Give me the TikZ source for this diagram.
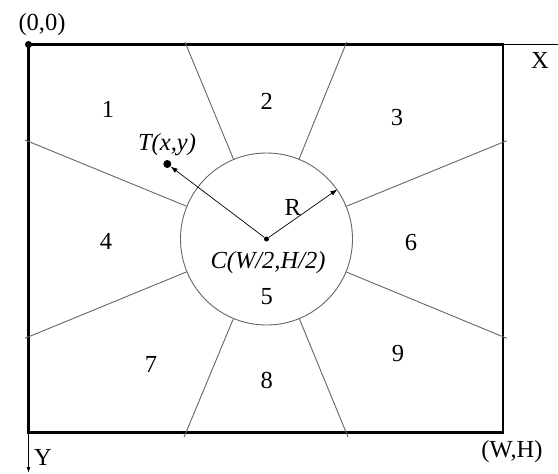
\documentclass[tikz,border=0pt]{standalone}
\usepackage{fontspec}
\setmainfont{Liberation Serif}
\usetikzlibrary{arrows.meta}
\begin{document}
\begin{tikzpicture}[x=1pt,y=-1pt,
  lbl/.style={inner sep=0pt,font=\fontsize{24.5}{28}\selectfont},
  ray/.style={draw=black!60,line width=0.9pt},
  frame/.style={draw=black,line width=2.8pt},
  axis/.style={draw=black,line width=0.9pt},
  vec/.style={draw=black,line width=0.7pt,-{Latex[length=7pt,width=5pt]}},
  dotstyle/.style={circle,fill=black,inner sep=0pt}]
\useasboundingbox (0,0) rectangle (558,474);
% frame
\coordinate (O) at (28.5,44.5);
\coordinate (WH) at (503,432.5);
\draw[frame] (O) rectangle (WH);
\coordinate (xend) at (558,44.5);
\coordinate (ystart) at (28.5,432.5);
\coordinate (yend) at (28.5,473);
\draw[axis] (503,44.5) -- (xend);
\draw[axis,-{Latex[length=6pt,width=4pt]}] (ystart) -- (yend);
\node[dotstyle,minimum size=7pt] (odot) at (O) {};
% circle
\node[circle,draw=black!60,line width=0.9pt,minimum size=172pt,inner sep=0pt] (circ) at (266.5,239) {};
% rays
\coordinate (r1) at (185,42);
\coordinate (r2) at (346.7,42);
\coordinate (r3) at (25,140);
\coordinate (r4) at (506.7,140.7);
\coordinate (r5) at (25,338.3);
\coordinate (r6) at (506.7,338.3);
\coordinate (r7) at (184,437.3);
\coordinate (r8) at (348,437);
\foreach \r in {r1,r2,r3,r4,r5,r6,r7,r8} {\draw[ray] (\r) -- (circ);}
% centre and T
\node[dotstyle,minimum size=5pt] (cdot) at (266.5,239) {};
\node[dotstyle,minimum size=8pt] (tdot) at (167.3,164) {};
\draw[vec] (cdot) -- (tdot);
\draw[vec] (cdot) -- (circ.35);
% labels
\node[lbl] (l00) at (42,25) {(0,0)};
\node[lbl] (lX) at (540,60) {X};
\node[lbl] (lY) at (43,457) {Y};
\node[lbl] (lWH) at (512,452) {(W,H)};
\node[lbl] (lT) at (167,145) {\itshape T(x,y)};
\node[lbl] (lC) at (268,263) {\itshape C(W/2,H/2)};
\node[lbl] (lR) at (292.7,207) {R};
\node[lbl] (n1) at (108,109) {1};
\node[lbl] (n2) at (266.7,101.7) {2};
\node[lbl] (n3) at (397,118) {3};
\node[lbl] (n4) at (106,241) {4};
\node[lbl] (n5) at (266.7,296.7) {5};
\node[lbl] (n6) at (411,243) {6};
\node[lbl] (n7) at (151,364) {7};
\node[lbl] (n8) at (266.7,380) {8};
\node[lbl] (n9) at (398,354) {9};
\end{tikzpicture}
\end{document}
